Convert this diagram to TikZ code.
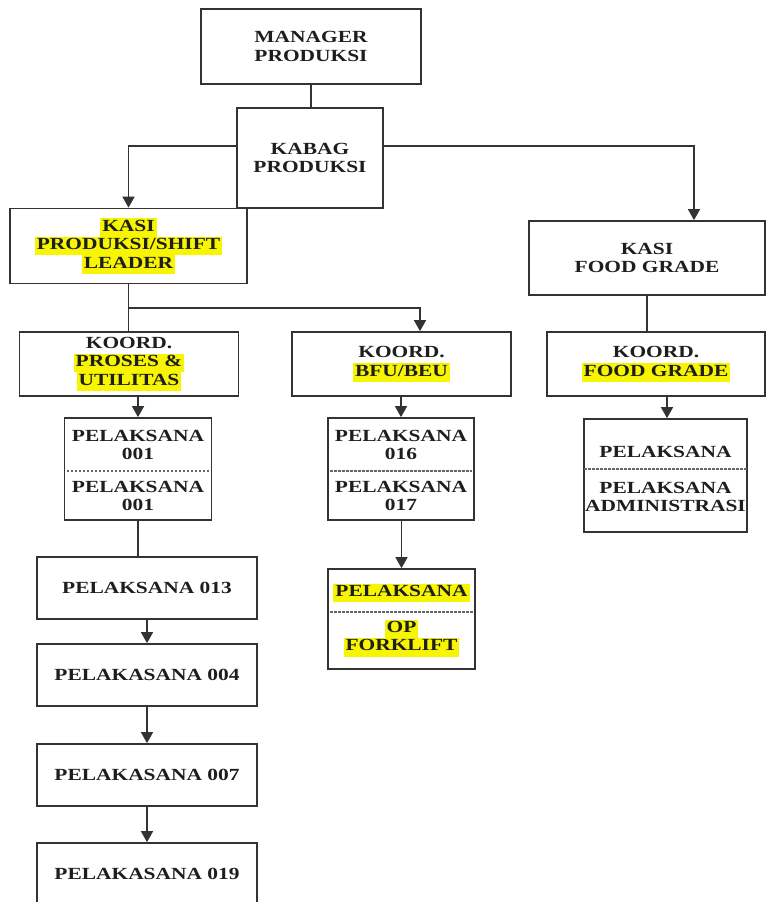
\documentclass[tikz,border=0pt]{standalone}
\usepackage{fontspec}
\setmainfont{Liberation Serif}[FakeStretch=1.26]
\usetikzlibrary{arrows.meta}
\definecolor{hl}{HTML}{F7F500}
\definecolor{ln}{HTML}{333333}
\definecolor{tx}{HTML}{1E1E1E}
\newcommand{\hlt}[1]{{\setlength{\fboxsep}{0pt}\colorbox{hl}{\strut\hspace{2bp}#1\hspace{2bp}}}}
\begin{document}
\begin{tikzpicture}[x=1bp,y=-1bp,
  box/.style={draw=ln, line width=1.7bp, inner sep=0pt, fill=white},
  txt/.style={font=\fontsize{17bp}{18.5bp}\selectfont\bfseries, align=center, text=tx, inner sep=0pt},
  arr/.style={-{Triangle[width=12bp,length=11bp]}, line width=1.6bp, draw=ln},
  con/.style={line width=1.6bp, draw=ln},
  sepl/.style={dash pattern=on 2.5bp off 1.5bp, draw=black!60, line width=1.2bp}]
\fill[white] (0,0) rectangle (766,902);
\useasboundingbox (0,0) rectangle (766,902);

% boxes with text
\node[box,txt,minimum width=220bp,minimum height=75bp] (mgr) at (311,46.5) {MANAGER\\PRODUKSI};
\node[box,txt,minimum width=146bp,minimum height=100bp] (kabag) at (310,158) {KABAG\\PRODUKSI};
\node[box,txt,minimum width=237bp,minimum height=75bp] (kasi1) at (128.5,246) {\hlt{KASI}\\\hlt{PRODUKSI/SHIFT}\\\hlt{LEADER}};
\node[box,txt,minimum width=236bp,minimum height=74bp] (kasi2) at (647,258) {KASI\\FOOD GRADE};
\node[box,txt,minimum width=219bp,minimum height=64bp] (k1) at (129,364) {KOORD.\\\hlt{PROSES \&}\\\hlt{UTILITAS}};
\node[box,txt,minimum width=219bp,minimum height=64bp] (k2) at (401.5,364) {KOORD.\\\hlt{BFU/BEU}};
\node[box,txt,minimum width=218bp,minimum height=64bp] (k3) at (656,364) {KOORD.\\\hlt{FOOD GRADE}};

% split boxes
\node[box,minimum width=147bp,minimum height=102bp] (p1) at (138,469) {};
\node[box,minimum width=146bp,minimum height=102bp] (p2) at (401,469) {};
\node[box,minimum width=163bp,minimum height=113bp] (p3) at (665.5,475.5) {};
\node[box,minimum width=147bp,minimum height=100bp] (fk) at (401.5,619) {};

\coordinate (s1) at (0,471);
\coordinate (s3) at (0,469);
\coordinate (s4) at (0,612);
\draw[sepl] ([xshift=3bp]p1.west |- s1) -- ([xshift=-3bp]p1.east |- s1);
\draw[sepl] ([xshift=3bp]p2.west |- s1) -- ([xshift=-3bp]p2.east |- s1);
\draw[sepl] ([xshift=1bp]p3.west |- s3) -- ([xshift=-1bp]p3.east |- s3);
\draw[sepl] ([xshift=3bp]fk.west |- s4) -- ([xshift=-3bp]fk.east |- s4);

\node[txt] (p1a) at (138,445) {PELAKSANA\\001};
\node[txt] (p1b) at (138,496) {PELAKSANA\\001};
\node[txt] (p2a) at (401,445) {PELAKSANA\\016};
\node[txt] (p2b) at (401,496) {PELAKSANA\\017};
\node[txt] (p3a) at (665.5,452) {PELAKSANA};
\node[txt] (p3b) at (665.5,497) {PELAKSANA\\ADMINISTRASI};
\node[txt] (fka) at (401.5,593) {\hlt{PELAKSANA}};
\node[txt] (fkb) at (401.5,638) {\hlt{OP}\\\hlt{FORKLIFT}};

% column boxes
\node[box,txt,minimum width=220bp,minimum height=62bp] (q1) at (147,588) {PELAKSANA 013};
\node[box,txt,minimum width=220bp,minimum height=62bp] (q2) at (147,675) {PELAKASANA 004};
\node[box,txt,minimum width=220bp,minimum height=62bp] (q3) at (147,775) {PELAKASANA 007};
\node[box,txt,minimum width=220bp,minimum height=62bp] (q4) at (147,874) {PELAKASANA 019};

% connectors
\draw[con] (mgr.south) -- (mgr.south |- kabag.north);
\draw[arr] ([yshift=12bp]kabag.west) -| (kasi1.north);
\draw[arr] ([yshift=12bp]kabag.east) -| ([xshift=47bp]kasi2.north);
\coordinate (j1) at (128,308);
\draw[con] (kasi1.south) -- (kasi1.south |- k1.north);
\draw[arr] (j1) -| ([xshift=18.5bp]k2.north);
\draw[con] (kasi2.south) -- (kasi2.south |- k3.north);
\draw[arr] (p1.north |- k1.south) -- (p1.north);
\draw[arr] (p2.north |- k2.south) -- (p2.north);
\draw[arr] ([xshift=1.5bp]p3.north |- k3.south) -- ([xshift=1.5bp]p3.north);
\draw[con] (p1.south) -- (p1.south |- q1.north);
\draw[arr] (q1.south) -- (q2.north);
\draw[arr] (q2.south) -- (q3.north);
\draw[arr] (q3.south) -- (q4.north);
\draw[arr] (fk.north |- p2.south) -- (fk.north);
\end{tikzpicture}
\end{document}
